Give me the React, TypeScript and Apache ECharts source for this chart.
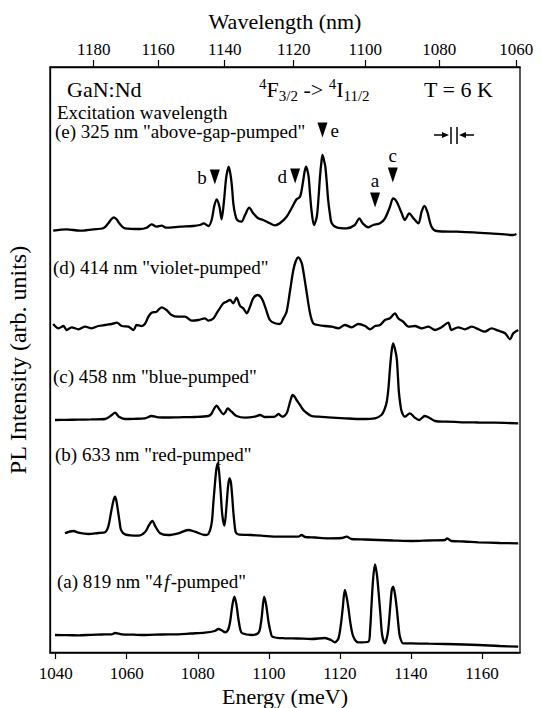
import React, { useEffect, useRef } from "react";
import * as echarts from "echarts";

const FONT = "Liberation Serif";
const HC = 1239841.98; // meV * nm

const energyTicks = [1040, 1060, 1080, 1100, 1120, 1140, 1160];
const wavelengthTicks = [1180, 1160, 1140, 1120, 1100, 1080, 1060];

// (a) 819 nm "4f-pumped"  [energy meV, offset intensity]
const specA: [number, number][] = [
  [1039.8, 17], [1043, 16.8], [1046.4, 16.7], [1050, 17.2], [1053, 17.5], [1055.8, 17.7], [1056.7, 19], [1058.6, 17.7],
  [1062, 17.3], [1065.1, 17], [1070, 17.5], [1074.5, 17.7], [1078, 18.5], [1082, 19.3], [1084.8, 21], [1085.8, 23],
  [1086.8, 21.5], [1087.7, 19.7], [1088.5, 22], [1089.1, 30.3], [1089.7, 46], [1090.3, 55.3], [1090.9, 47], [1091.4, 33.7],
  [1092, 22], [1092.5, 18.7], [1095.2, 17], [1097, 18.7], [1097.5, 23], [1098, 35], [1098.7, 55.3], [1099.3, 46],
  [1099.9, 30.3], [1100.5, 20], [1101, 15.3], [1104.5, 13.7], [1108, 13.5], [1112, 13], [1115.8, 14], [1117.5, 12],
  [1118.6, 9.7], [1119.6, 13.7], [1120.3, 28], [1120.8, 43.7], [1121.4, 62], [1121.9, 55], [1122.4, 44], [1123, 28],
  [1123.8, 15.3], [1125.2, 9.7], [1128, 10.3], [1128.5, 22], [1128.9, 47], [1129.4, 75], [1129.9, 87.7], [1130.4, 78],
  [1130.8, 63.7], [1131.4, 38], [1131.9, 17], [1132.7, 8.7], [1133.2, 14], [1133.6, 22], [1134.1, 42], [1134.6, 62],
  [1135, 65.3], [1135.5, 58], [1136, 44], [1136.5, 26], [1136.9, 15.3], [1137.8, 8.7], [1140.2, 8.7], [1145, 8.3],
  [1149.6, 8], [1155, 7.5], [1159, 7], [1165, 6], [1170.2, 5.3],
];

// (b) 633 nm "red-pumped"
const specB: [number, number][] = [
  [1042.6, 118.7], [1045, 121], [1046.4, 119.3], [1049.2, 118], [1052, 119], [1053.9, 119.7], [1054.8, 125.3], [1055.4, 136],
  [1055.8, 143.7], [1056.3, 152], [1056.7, 155.3], [1057.1, 151], [1057.5, 142], [1058, 130], [1058.4, 122], [1059.5, 117.7],
  [1063.3, 116.3], [1065.1, 119.7], [1066.3, 127], [1067.2, 131], [1068.1, 125.3], [1069.4, 118.7], [1071.7, 117], [1074.5, 118.7],
  [1077.3, 122], [1079.2, 120.3], [1082, 117], [1083, 118], [1083.9, 128.7], [1084.4, 150], [1084.8, 167], [1085.2, 182],
  [1085.6, 188.7], [1086, 180], [1086.4, 162], [1086.9, 137], [1087.5, 126.3], [1088.1, 147], [1088.5, 165], [1088.9, 173.7],
  [1089.3, 170], [1089.7, 155], [1090, 140.3], [1090.4, 126], [1090.7, 119.7], [1091.4, 117.7], [1095, 117], [1098, 116.3],
  [1102.7, 115.3], [1108.3, 115.3], [1109.2, 117], [1110.2, 115], [1113, 114.5], [1116.7, 113.7], [1120.5, 114], [1121.9, 115.3],
  [1123.3, 113], [1127, 112.5], [1130.8, 112], [1135, 111.5], [1140.2, 111], [1145, 111.5], [1149.6, 112], [1150.2, 113.7],
  [1151.4, 111], [1155, 110.5], [1159, 109.7], [1165, 109], [1170.2, 108.7],
];

// (c) 458 nm "blue-pumped"
const specC: [number, number][] = [
  [1039.8, 232], [1043, 232.2], [1046.4, 232.3], [1050, 232.6], [1053.9, 233], [1055.8, 237], [1056.7, 239.3], [1057.8, 235.3],
  [1059.5, 233], [1062, 233.2], [1065.1, 233.7], [1067, 236], [1068.9, 234.7], [1072, 234.5], [1074.5, 234.7], [1079.2, 235],
  [1083, 236], [1083.8, 238], [1084.4, 242], [1085.3, 246.3], [1086.2, 242], [1087.2, 237.7], [1087.8, 240], [1088.4, 243.7],
  [1089.5, 240.3], [1090.9, 236], [1093.3, 234.3], [1096.1, 235.3], [1097.5, 237], [1098.9, 235], [1101.7, 235.3], [1102.7, 238],
  [1103.8, 235.3], [1105, 238.7], [1105.5, 244], [1106, 250.3], [1106.7, 257], [1107.3, 255], [1107.8, 252], [1108.8, 247],
  [1109.5, 243], [1110.2, 240.3], [1112, 236], [1114, 235.3], [1116.7, 234.7], [1121.4, 233.7], [1126.1, 233], [1129.9, 233.7],
  [1131.7, 237], [1132.5, 242], [1133.2, 250.3], [1133.7, 265], [1134.1, 283.7], [1134.6, 302], [1135, 308.7], [1135.5, 303],
  [1136, 293.7], [1136.3, 278], [1136.6, 260.3], [1137, 248], [1137.4, 240.3], [1138.3, 235.3], [1139.7, 238.7], [1141.1, 234.3],
  [1142.3, 232], [1143.9, 236], [1145.4, 233.7], [1146.8, 231], [1150, 230.3], [1154.3, 229.7], [1159, 229.5], [1163.6, 229.3],
  [1170.2, 228.7],
];

// (d) 414 nm "violet-pumped"
const specD: [number, number][] = [
  [1039.3, 328], [1040.8, 323.7], [1042.2, 326], [1043.1, 322], [1044.5, 324.7], [1046.4, 322.7], [1048.3, 325.3], [1050.1, 323.7],
  [1052, 326], [1053.9, 327], [1055.8, 328], [1057.2, 329.3], [1058.6, 326], [1060.5, 325.3], [1061.9, 322], [1062.8, 327],
  [1064.2, 326], [1065.1, 328], [1066.1, 335.3], [1067, 339.3], [1068.4, 340.3], [1069.8, 344.7], [1071.2, 342], [1072.6, 337],
  [1074.5, 335.3], [1076.4, 335.3], [1078.3, 331.3], [1080.2, 332], [1082, 333.7], [1083, 331.3], [1084.4, 333.7], [1085.3, 338.7],
  [1086.2, 343.7], [1087.2, 348.7], [1088.1, 350.3], [1089.1, 352], [1090, 348.7], [1090.9, 354.3], [1091.9, 346], [1092.8, 343.7],
  [1093.8, 338.7], [1094.7, 345.3], [1095.6, 353.7], [1096.8, 357], [1098, 353.7], [1099.1, 343.7], [1100.3, 332], [1101.7, 328.7],
  [1103.1, 328], [1104.1, 333.7], [1105, 340.3], [1106, 362], [1106.9, 382], [1107.6, 391], [1108.3, 394.7], [1108.9, 392],
  [1109.4, 387], [1110.4, 365.3], [1111.6, 338.7], [1112.5, 328.7], [1113.9, 327], [1115.8, 326], [1117.7, 325.3], [1119.6, 323.7],
  [1121.4, 327], [1123.3, 324.7], [1125.2, 328], [1127.1, 326], [1128.5, 322.7], [1129.9, 326], [1131.3, 327], [1132.7, 332],
  [1134.1, 333.7], [1135.5, 338.7], [1136.4, 333.7], [1137.8, 330.3], [1139.3, 325.3], [1141.1, 326], [1143, 323.7], [1144.9, 325.3],
  [1146.8, 322], [1148.6, 324.7], [1150.5, 329.3], [1151.4, 322], [1153.3, 324.7], [1155.2, 322.7], [1157.1, 325.3], [1159, 322.7],
  [1160.8, 320.3], [1162.7, 323.7], [1164.6, 321.3], [1166.5, 318.7], [1167.9, 312.7], [1168.8, 318.7], [1170.2, 322],
];

// (e) 325 nm "above-gap-pumped"
const specE: [number, number][] = [
  [1039.3, 421.3], [1043.1, 422.7], [1046.8, 421.3], [1050.6, 422.7], [1053.4, 423.7], [1054.8, 428.7], [1055.6, 432.5], [1056.4, 434.7],
  [1057.2, 432.5], [1057.9, 428.7], [1059.5, 423.7], [1063.7, 423], [1065.6, 424.3], [1067, 427.7], [1068.4, 425.3], [1069.8, 426.3],
  [1071.2, 424.3], [1075, 425.3], [1078.7, 426], [1080.6, 427], [1081.7, 428.7], [1083, 426], [1083.9, 432], [1084.6, 445.3],
  [1085.3, 452.7], [1086.1, 445.3], [1086.7, 432.7], [1087.4, 452], [1087.8, 468], [1088.1, 477], [1088.7, 485.3], [1089.3, 475.3],
  [1089.7, 462], [1090, 448.7], [1090.5, 438], [1091.1, 432], [1092.3, 430.3], [1093.3, 437], [1094.5, 444.3], [1095.6, 438.7],
  [1097, 433.7], [1098.4, 432], [1100.3, 428.7], [1101.7, 426.7], [1103.1, 428.7], [1105, 435.3], [1106.4, 443.7], [1107.8, 452.7],
  [1108.8, 455.3], [1109.7, 472], [1110.1, 481], [1110.5, 485.3], [1110.9, 481], [1111.2, 475.3], [1111.6, 458], [1112, 442],
  [1112.7, 427], [1113.5, 435.3], [1114, 455], [1114.4, 475.3], [1114.8, 490], [1115.1, 497], [1115.5, 492], [1115.9, 485.3],
  [1116.3, 470], [1116.7, 452], [1117.2, 438], [1117.7, 428.7], [1119.1, 424.7], [1121.9, 423.7], [1124.2, 427], [1125.5, 433.7],
  [1126.4, 428.7], [1128, 424.7], [1129.4, 427], [1131.3, 428.7], [1132.7, 433.7], [1134.1, 445.3], [1135, 453.7], [1136, 450.3],
  [1137.4, 438.7], [1138.3, 432], [1139.5, 438.7], [1140.7, 433.7], [1142.1, 428.7], [1143, 440.3], [1143.8, 446], [1144.6, 440.3],
  [1145.8, 425.3], [1147.2, 421], [1152.9, 420.3], [1157.6, 419.7], [1162.2, 418.7], [1168.8, 417], [1169.7, 418],
];

// peak markers on spectrum (e)
const markerNames = ["b", "d", "e", "a", "c"];
const markerEnergy = [1084.8, 1107.4, 1115.1, 1129.9, 1134.9];
const markerLevel = [475, 476, 522, 452, 477];
const markerLabelPos = ["left", "left", "right", "top", "top"];

const axisTitles = ["Energy (meV)", "Wavelength (nm)", "PL Intensity (arb. units)"];

const spectrumLabels = [
  '(e) 325 nm "above-gap-pumped"',
  '(d) 414 nm "violet-pumped"',
  '(c) 458 nm "blue-pumped"',
  '(b) 633 nm "red-pumped"',
];

export default function App() {
  const ref = useRef<HTMLDivElement>(null);
  useEffect(() => {
    if (!ref.current) return;
    const chart = echarts.init(ref.current, null, { renderer: "svg" });
    const lineSeries = (data: [number, number][]) => ({
      type: "line",
      data,
      showSymbol: false,
      smooth: 0.3,
      silent: true,
      lineStyle: { color: "#000", width: 2.3 },
      xAxisIndex: 0,
      yAxisIndex: 0,
    });
    const txt = (text: string, x: number, y: number, size: number, align = "left", rotation = 0) => ({
      type: "text",
      x,
      y,
      rotation,
      silent: true,
      style: {
        text,
        fill: "#000",
        fontFamily: FONT,
        fontSize: size,
        fontWeight: "normal",
        textAlign: align,
        textVerticalAlign: "middle",
      },
    });
    const serif = (size: number) => ({
      fontFamily: FONT,
      fontSize: size,
      fontWeight: "normal",
      fontStyle: "normal",
      color: "#000",
    });
    const option: any = {
      animation: false,
      backgroundColor: "#fff",
      textStyle: { fontFamily: FONT, fontWeight: "normal" },
      grid: {
        left: 50,
        right: 21,
        top: 67,
        bottom: 55,
        show: true,
        borderColor: "#000",
        borderWidth: 1.3,
        backgroundColor: "transparent",
      },
      xAxis: [
        {
          type: "value",
          min: 1038.4,
          max: 1170.7,
          position: "bottom",
          axisLine: { show: true, lineStyle: { color: "#000", width: 1.3 } },
          axisTick: { show: true, inside: false, length: 7, customValues: energyTicks, lineStyle: { color: "#000", width: 1.2 } },
          axisLabel: {
            show: true,
            customValues: energyTicks,
            formatter: (v: number) => String(Math.round(v)),
            margin: 12,
            ...serif(17),
          },
          splitLine: { show: false },
        },
        {
          type: "value",
          min: 1038.4,
          max: 1170.7,
          position: "top",
          axisLine: { show: true, lineStyle: { color: "#000", width: 1.3 } },
          axisTick: {
            show: true,
            inside: false,
            length: 7,
            customValues: wavelengthTicks.map((l) => HC / l),
            lineStyle: { color: "#000", width: 1.2 },
          },
          axisLabel: {
            show: true,
            customValues: wavelengthTicks.map((l) => HC / l),
            formatter: (v: number) => String(Math.round(HC / v)),
            margin: 9,
            ...serif(17),
          },
          splitLine: { show: false },
        },
      ],
      yAxis: {
        type: "value",
        min: -1,
        max: 585,
        axisLine: { show: true, lineStyle: { color: "#000", width: 1.3 } },
        axisTick: { show: false },
        axisLabel: { show: false },
        splitLine: { show: false },
      },
      series: [
        lineSeries(specA),
        lineSeries(specB),
        lineSeries(specC),
        lineSeries(specD),
        lineSeries(specE),
        {
          type: "scatter",
          silent: true,
          symbol: "path://M0,0L10,0L5,14Z",
          symbolSize: [10, 15],
          itemStyle: { color: "#000", opacity: 1 },
          data: markerNames.map((n, i) => ({
            name: n,
            value: [markerEnergy[i], markerLevel[i]],
            label: {
              show: true,
              position: markerLabelPos[i],
              distance: 3,
              formatter: n,
              ...serif(19),
            },
          })),
        },
      ],
      graphic: [
        txt(axisTitles[0], 285, 696, 22, "center"),
        txt(axisTitles[1], 285, 21, 22, "center"),
        txt(axisTitles[2], 18, 360, 24, "center", Math.PI / 2),
        txt("GaN:Nd", 67, 89, 22),
        {
          type: "text",
          x: 259,
          y: 89,
          silent: true,
          style: {
            text: "{sup|4}{m|F}{sub|3/2}{m| -> }{sup|4}{m|I}{sub|11/2}",
            fill: "#000",
            textVerticalAlign: "middle",
            rich: {
              m: { fontFamily: FONT, fontSize: 22, fill: "#000", lineHeight: 30, verticalAlign: "middle" },
              sup: { fontFamily: FONT, fontSize: 15, fill: "#000", lineHeight: 30, verticalAlign: "top", padding: [2, 0, 0, 0] },
              sub: { fontFamily: FONT, fontSize: 15, fill: "#000", lineHeight: 30, verticalAlign: "bottom", padding: [0, 0, 1, 0] },
            },
          },
        },
        txt("T = 6 K", 424, 89, 22),
        txt("Excitation wavelength", 57, 112, 19),
        txt(spectrumLabels[0], 55, 131, 19),
        txt(spectrumLabels[1], 53, 267, 19),
        txt(spectrumLabels[2], 53, 376, 19),
        txt(spectrumLabels[3], 55, 454, 19),
        {
          type: "text",
          x: 57,
          y: 581,
          silent: true,
          style: {
            text: '{n|(a) 819 nm "4}{i|f}{n|-pumped"}',
            fill: "#000",
            textVerticalAlign: "middle",
            rich: {
              n: { fontFamily: FONT, fontSize: 19, fill: "#000" },
              i: { fontFamily: FONT, fontSize: 19, fontStyle: "italic", fill: "#000", padding: [0, 1, 0, 2] },
            },
          },
        },
        // spectral resolution marker  ->||<-
        { type: "line", silent: true, shape: { x1: 434, y1: 135, x2: 446, y2: 135 }, style: { stroke: "#000", lineWidth: 1.5 } },
        { type: "polygon", silent: true, shape: { points: [[449, 135], [442, 132], [442, 138]] }, style: { fill: "#000" } },
        { type: "line", silent: true, shape: { x1: 451, y1: 127, x2: 451, y2: 144 }, style: { stroke: "#000", lineWidth: 1.5 } },
        { type: "line", silent: true, shape: { x1: 457, y1: 127, x2: 457, y2: 144 }, style: { stroke: "#000", lineWidth: 1.5 } },
        { type: "polygon", silent: true, shape: { points: [[459, 135], [466, 132], [466, 138]] }, style: { fill: "#000" } },
        { type: "line", silent: true, shape: { x1: 462, y1: 135, x2: 474, y2: 135 }, style: { stroke: "#000", lineWidth: 1.5 } },
      ],
    };
    chart.setOption(option);
    return () => chart.dispose();
  }, []);
  return (
    <div
      ref={ref}
      style={{ position: "fixed", left: 0, top: 0, width: 541, height: 708, background: "#fff" }}
    />
  );
}
